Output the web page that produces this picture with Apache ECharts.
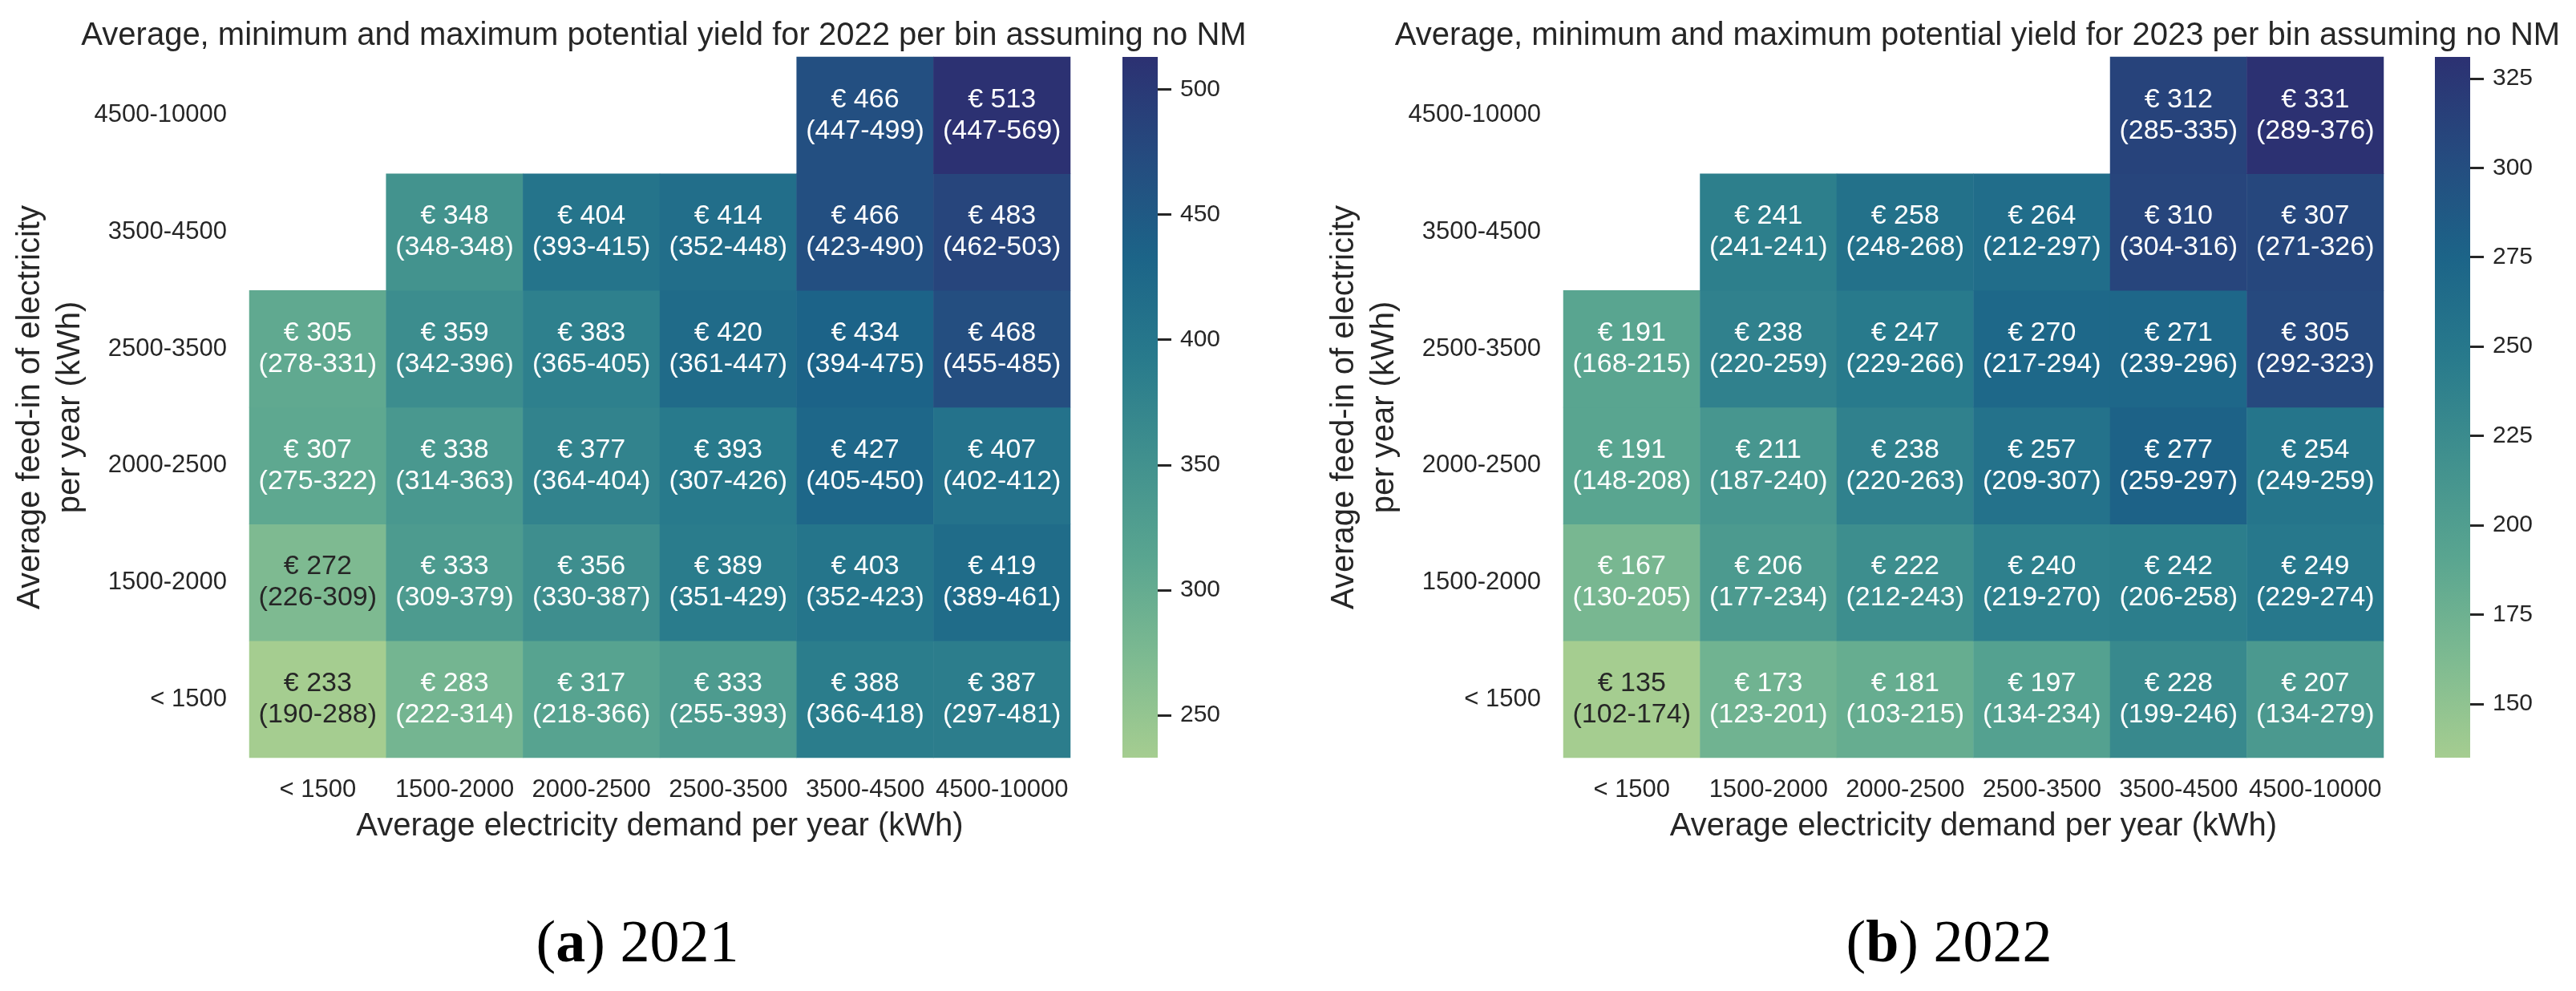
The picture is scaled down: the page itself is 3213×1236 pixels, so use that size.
<!DOCTYPE html>
<html><head><meta charset="utf-8">
<script src="https://cdn.jsdelivr.net/npm/echarts@6/dist/echarts.min.js"></script>
<style>html,body{margin:0;padding:0;background:#fff}#c{width:3213px;height:1236px}</style>
</head><body><div id="c"></div>
<script>
// ---------- data ----------
const demandBins = ['< 1500','1500-2000','2000-2500','2500-3500','3500-4500','4500-10000'];
const feedInBins = ['< 1500','1500-2000','2000-2500','2500-3500','3500-4500','4500-10000'];
// rows = feed-in bins (bottom to top), columns = demand bins
const avg2021 = [
 [233,283,317,333,388,387],
 [272,333,356,389,403,419],
 [307,338,377,393,427,407],
 [305,359,383,420,434,468],
 [null,348,404,414,466,483],
 [null,null,null,null,466,513]];
const min2021 = [
 [190,222,218,255,366,297],
 [226,309,330,351,352,389],
 [275,314,364,307,405,402],
 [278,342,365,361,394,455],
 [null,348,393,352,423,462],
 [null,null,null,null,447,447]];
const max2021 = [
 [288,314,366,393,418,481],
 [309,379,387,429,423,461],
 [322,363,404,426,450,412],
 [331,396,405,447,475,485],
 [null,348,415,448,490,503],
 [null,null,null,null,499,569]];
const avg2022 = [
 [135,173,181,197,228,207],
 [167,206,222,240,242,249],
 [191,211,238,257,277,254],
 [191,238,247,270,271,305],
 [null,241,258,264,310,307],
 [null,null,null,null,312,331]];
const min2022 = [
 [102,123,103,134,199,134],
 [130,177,212,219,206,229],
 [148,187,220,209,259,249],
 [168,220,229,217,239,292],
 [null,241,248,212,304,271],
 [null,null,null,null,285,289]];
const max2022 = [
 [174,201,215,234,246,279],
 [205,234,243,270,258,274],
 [208,240,263,307,297,259],
 [215,259,266,294,296,323],
 [null,241,268,297,316,326],
 [null,null,null,null,335,376]];
const cbTicks2021 = [250,300,350,400,450,500];
const cbTicks2022 = [150,175,200,225,250,275,300,325];
const titles = ['Average, minimum and maximum potential yield for 2022 per bin assuming no NM',
                'Average, minimum and maximum potential yield for 2023 per bin assuming no NM'];
const captions = [['a','2021'],['b','2022']];
const xName = 'Average electricity demand per year (kWh)';
const yName = 'Average feed-in of electricity\nper year (kWh)';

// ---------- styling ----------
const CREST = ['#a5cd90','#7dba91','#59a590','#40908e','#287a8c','#1c6488','#254b7f','#2c3172'];
const FONT = 'Liberation Sans, Arial, sans-serif';
const SERIF = 'Liberation Serif, Times New Roman, serif';
const TXT = '#262626';

function hex2rgb(h){return [1,3,5].map(i=>parseInt(h.substr(i,2),16));}
function crestAt(t){
  t=Math.max(0,Math.min(1,t));
  const n=CREST.length-1, p=t*n, i=Math.min(n-1,Math.floor(p)), f=p-i;
  const a=hex2rgb(CREST[i]), b=hex2rgb(CREST[i+1]);
  return a.map((v,k)=>v+(b[k]-v)*f);
}
function lum(rgb){
  const c=rgb.map(v=>{v/=255;return v<=0.03928?v/12.92:Math.pow((v+0.055)/1.055,2.4);});
  return 0.2126*c[0]+0.7152*c[1]+0.0722*c[2];
}
function flat(a){return a.flat().filter(v=>v!=null);}

function buildData(avg,mn,mx){
  const vmin=Math.min(...flat(avg)), vmax=Math.max(...flat(avg));
  const out=[];
  avg.forEach((row,r)=>row.forEach((v,c)=>{
    if(v==null) return;
    const L=lum(crestAt((v-vmin)/(vmax-vmin)));
    out.push({value:[c,r,v,mn[r][c],mx[r][c]],label:{color:L>0.408?TXT:'#ffffff'}});
  }));
  return {data:out,vmin,vmax};
}

const panels=[
  {d:buildData(avg2021,min2021,max2021),ticks:cbTicks2021,gl:311,gw:1024,cb:1400,cap:790},
  {d:buildData(avg2022,min2022,max2022),ticks:cbTicks2022,gl:1950,gw:1023,cb:3037,cap:2426}
];
const TOP=71, H=874;

const option={
  backgroundColor:'#fff',
  animation:false,
  textStyle:{fontFamily:FONT},
  title:[], grid:[], xAxis:[], yAxis:[], series:[], visualMap:[]
};
const grad=new echarts.graphic.LinearGradient(0,1,0,0,CREST.map((c,i)=>({offset:i/(CREST.length-1),color:c})));

panels.forEach((p,k)=>{
  option.title.push({text:titles[k],left:p.gl+p.gw/2,top:20,textAlign:'center',
    textStyle:{fontFamily:FONT,fontSize:40,fontWeight:'normal',color:TXT}});
  option.title.push({text:'{n|(}{b|'+captions[k][0]+'}{n|) '+captions[k][1]+'}',left:p.cap,top:1138,textAlign:'center',
    textStyle:{fontFamily:SERIF,fontSize:74,fontWeight:'normal',color:'#000',
      rich:{n:{fontFamily:SERIF,fontSize:74,fontWeight:'normal',color:'#000'},
            b:{fontFamily:SERIF,fontSize:74,fontWeight:'bold',color:'#000'}}}});
  // heatmap grid
  option.grid.push({left:p.gl,top:TOP,width:p.gw,height:H,containLabel:false,outerBoundsMode:'none'});
  // colorbar grid
  option.grid.push({left:p.cb,top:TOP,width:44,height:H,containLabel:false,outerBoundsMode:'none',
    show:true,backgroundColor:grad,borderWidth:0});
  const gi=k*2;
  option.xAxis.push({type:'category',gridIndex:gi,data:demandBins,
    axisLine:{show:false},axisTick:{show:false},splitArea:{show:false},
    axisLabel:{fontSize:31,color:TXT,margin:25,fontFamily:FONT,interval:0},
    name:xName,nameLocation:'middle',nameGap:66,nameTextStyle:{fontSize:40,color:TXT,fontFamily:FONT}});
  option.yAxis.push({type:'category',gridIndex:gi,data:feedInBins,
    axisLine:{show:false},axisTick:{show:false},splitArea:{show:false},
    axisLabel:{fontSize:31,color:TXT,margin:28,fontFamily:FONT,interval:0},
    name:yName,nameLocation:'middle',nameGap:198,nameTextStyle:{fontSize:40,lineHeight:50,color:TXT,fontFamily:FONT}});
  option.xAxis.push({type:'value',gridIndex:gi+1,show:false,min:0,max:1,axisLine:{onZero:false}});
  option.yAxis.push({type:'value',gridIndex:gi+1,position:'right',min:p.d.vmin,max:p.d.vmax,
    axisLine:{show:false,onZero:false},splitLine:{show:false},
    axisTick:{show:true,inside:false,length:17,lineStyle:{color:TXT,width:3},customValues:p.ticks},
    axisLabel:{fontSize:30,color:TXT,margin:28,fontFamily:FONT,customValues:p.ticks}});
  option.visualMap.push({type:'continuous',show:false,seriesIndex:k,dimension:2,
    min:p.d.vmin,max:p.d.vmax,inRange:{color:CREST}});
  option.series.push({type:'heatmap',xAxisIndex:gi,yAxisIndex:gi,data:p.d.data,
    itemStyle:{borderWidth:0},
    label:{show:true,fontSize:34,lineHeight:39,fontFamily:FONT,
      formatter:q=>'€ '+q.value[2]+'\n('+q.value[3]+'-'+q.value[4]+')'},
    emphasis:{disabled:true}});
});

const chart=echarts.init(document.getElementById('c'),null,{renderer:'canvas'});
chart.setOption(option);
</script></body></html>
